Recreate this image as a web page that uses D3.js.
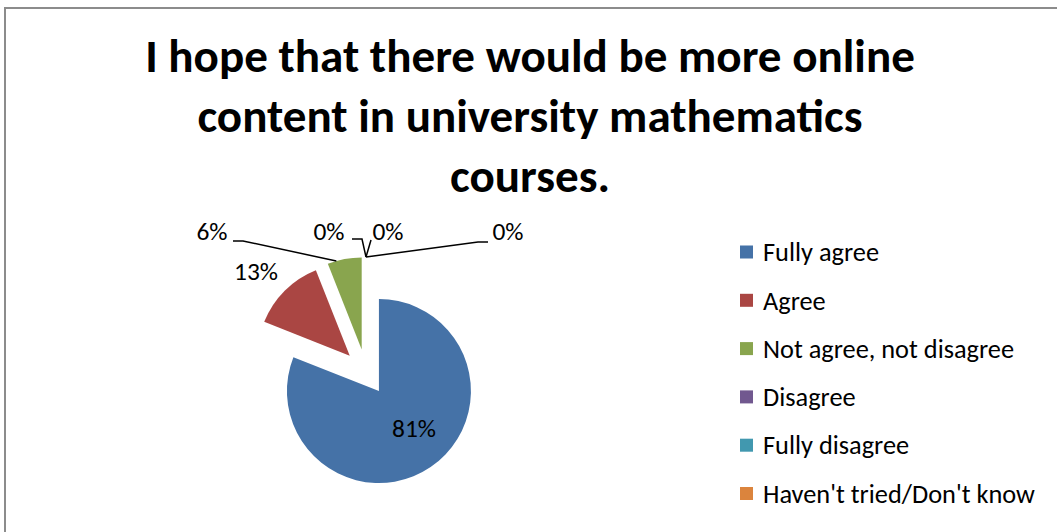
<!DOCTYPE html>
<html>
<head>
<meta charset="utf-8">
<script src="https://cdn.jsdelivr.net/npm/d3@7/dist/d3.min.js"></script>
<style>
  html, body { margin: 0; padding: 0; background: #fff; overflow: hidden; }
  svg { display: block; }
</style>
</head>
<body>
<svg id="chart" width="1057" height="532"></svg>
<script>
// Survey answers and their shares (percent of respondents)
const categories = [
  "Fully agree",
  "Agree",
  "Not agree, not disagree",
  "Disagree",
  "Fully disagree",
  "Haven't tried/Don't know"
];
const shares = [81, 13, 6, 0, 0, 0];
const colors = ["#4572A7", "#AA4643", "#89A54E", "#71588F", "#4198AF", "#DB843D"];
const titleLines = [
  "I hope that there would be more online",
  "content in university mathematics",
  "courses."
];

const FONT = "Carlito, Calibri, Lato, 'Open Sans', sans-serif";

const svg = d3.select("#chart");

// Chart frame (runs off the right and bottom edges)
svg.append("rect")
  .attr("x", 5).attr("y", 8)
  .attr("width", 1100).attr("height", 600)
  .attr("fill", "#fff")
  .attr("stroke", "#8c8c8c")
  .attr("stroke-width", 2);

// Fit text so that a reference string spans the given width
function fitSize(text, weight, width) {
  const t = svg.append("text").attr("font-family", FONT)
    .attr("font-weight", weight).attr("font-size", 100).text(text);
  const w = t.node().getComputedTextLength();
  t.remove();
  return 100 * width / w;
}

// Title
const titleSize = fitSize(titleLines[0], "bold", 770);
svg.append("g").selectAll("text")
  .data(titleLines)
  .join("text")
  .attr("x", 530)
  .attr("y", (d, i) => 72 + i * 60)
  .attr("text-anchor", "middle")
  .attr("font-family", FONT)
  .attr("font-weight", "bold")
  .attr("font-size", titleSize)
  .attr("fill", "#000")
  .text(d => d);

// Exploded pie
const cx = 366, cy = 372, radius = 92, explode = 23;
const pie = d3.pie().sort(null).startAngle(0).endAngle(2 * Math.PI);
const arcs = pie(shares);
const arc = d3.arc().innerRadius(0).outerRadius(radius);

function offset(a) {
  const mid = (a.startAngle + a.endAngle) / 2;
  return [Math.sin(mid) * explode, -Math.cos(mid) * explode];
}
function polar(a, angle, r) {
  const [ox, oy] = offset(a);
  return [cx + ox + Math.sin(angle) * r, cy + oy - Math.cos(angle) * r];
}

const pieG = svg.append("g");
pieG.selectAll("path")
  .data(arcs)
  .join("path")
  .attr("transform", d => {
    const [ox, oy] = offset(d);
    return `translate(${cx + ox},${cy + oy})`;
  })
  .attr("d", arc)
  .attr("fill", (d, i) => colors[i]);

// Data labels: text anchor point and optional leader elbow
const labelFont = fitSize("81%", "normal", 44);
const labelLayout = [
  { x: 414, y: 437, leader: null },
  { x: 256, y: 280, leader: null },
  { x: 212, y: 240, leader: { from: [233, 241], elbow: [243, 241], angle: 344 } },
  { x: 329, y: 240, leader: { from: [352, 239], elbow: [362, 239], angle: 360 } },
  { x: 388, y: 240, leader: { from: [371, 240], elbow: [371, 240], angle: 360 } },
  { x: 508, y: 240, leader: { from: [488, 242], elbow: [478, 242], angle: 360 } }
];

const line = d3.line();
arcs.forEach((a, i) => {
  const L = labelLayout[i];
  if (L.leader) {
    const target = polar(a, L.leader.angle * Math.PI / 180, radius);
    svg.append("path")
      .attr("d", line([L.leader.from, L.leader.elbow, target]))
      .attr("fill", "none")
      .attr("stroke", "#000")
      .attr("stroke-width", 1.5);
  }
  svg.append("text")
    .attr("x", L.x).attr("y", L.y)
    .attr("text-anchor", "middle")
    .attr("font-family", FONT)
    .attr("font-size", labelFont)
    .attr("fill", "#000")
    .text(Math.round(a.data) + "%");
});

// Legend
const legendSize = fitSize(categories[5], "normal", 272);
const legend = svg.append("g").selectAll("g")
  .data(categories)
  .join("g")
  .attr("transform", (d, i) => `translate(740,${252 + i * 48.3})`);
legend.append("rect")
  .attr("x", 0).attr("y", -6.5)
  .attr("width", 13).attr("height", 13)
  .attr("fill", (d, i) => colors[i]);
legend.append("text")
  .attr("x", 23).attr("y", 0)
  .attr("dy", "0.35em")
  .attr("font-family", FONT)
  .attr("font-size", legendSize)
  .attr("fill", "#000")
  .text(d => d);
</script>
</body>
</html>
